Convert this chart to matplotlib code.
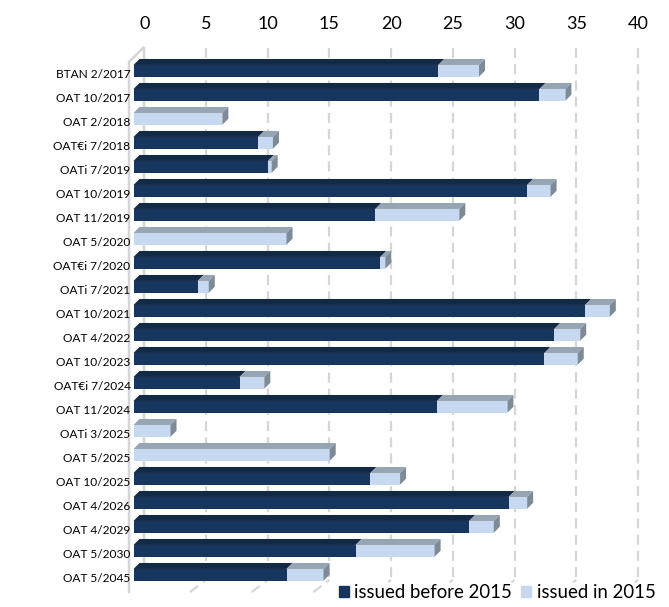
import numpy as np
import matplotlib.pyplot as plt
from matplotlib.patches import Polygon, Patch
from matplotlib.transforms import offset_copy

plt.rcParams['font.family'] = ['Lato', 'DejaVu Sans']

bonds = ['BTAN 2/2017', 'OAT 10/2017', 'OAT 2/2018', 'OAT€i 7/2018', 'OATi 7/2019',
         'OAT 10/2019', 'OAT 11/2019', 'OAT 5/2020', 'OAT€i 7/2020', 'OATi 7/2021',
         'OAT 10/2021', 'OAT 4/2022', 'OAT 10/2023', 'OAT€i 7/2024', 'OAT 11/2024',
         'OATi 3/2025', 'OAT 5/2025', 'OAT 10/2025', 'OAT 4/2026', 'OAT 4/2029',
         'OAT 5/2030', 'OAT 5/2045']
before_2015 = [24.7, 32.9, 0.0, 10.1, 10.9, 31.9, 19.6, 0.0, 20.0, 5.2, 36.6,
               34.1, 33.3, 8.6, 24.6, 0.0, 0.0, 19.2, 30.4, 27.2, 18.0, 12.4]
in_2015 = [3.3, 2.1, 7.2, 1.2, 0.3, 1.9, 6.8, 12.4, 0.4, 0.9, 2.0,
           2.1, 2.7, 2.0, 5.7, 3.0, 15.9, 2.4, 1.5, 2.0, 6.4, 3.0]
ticks = [0, 5, 10, 15, 20, 25, 30, 35, 40]

DARK, DARK_TOP = '#17365d', '#132a47'
LIGHT, LIGHT_TOP, SIDE = '#c6d9f1', '#97a4b4', '#7d8a98'
GRID = '#d6d6d6'

W, H = 669, 607
fig = plt.figure(figsize=(W / 100, H / 100), dpi=100)
# axes = front plane of the bars (pixel box of the reference)
left, right, top, bottom = 133.5, 627.1, 58.85, 586.85
ax = fig.add_axes([left / W, 1 - bottom / H, (right - left) / W, (bottom - top) / H])
ax.set_xlim(0, 40)
ax.set_ylim(len(bonds) - 0.5, -0.5)
ax.axis('off')

inv = ax.transData.inverted()


def img2data(px, py):
    return inv.transform((px, H - py))


def shift(x, y, dx, dy):
    # move a data point by (dx, dy) image pixels (dy positive = up)
    d = ax.transData.transform((x, y)) + np.array([dx, dy])
    return inv.transform(d)


# 3D frame: back wall, left wall, floor
WALL_DX, FLOOR_DX = 10.8, -5.2
wall_top = img2data(0, 48)[1]
wall_bot = img2data(0, 580)[1]
floor_front = img2data(0, 592)[1]
back = offset_copy(ax.transData, fig=fig, x=WALL_DX, y=0, units='dots')
for v in ticks[1:]:
    ax.plot([v, v], [wall_top, wall_bot], transform=back, color=GRID, lw=1.6,
            ls=(0, (4.5, 2.8)), clip_on=False, zorder=0)
    p0 = shift(v, floor_front, FLOOR_DX, 0)
    p1 = shift(v, wall_bot, WALL_DX, 0)
    ax.plot([p0[0], p1[0]], [p0[1], p1[1]], color=GRID, lw=1.6,
            ls=(0, (4.5, 2.8)), clip_on=False, zorder=0)

wall = [img2data(129, 592), img2data(129, 62), img2data(144, 47), img2data(144, 580)]
ax.plot([p[0] for p in wall], [p[1] for p in wall], color=GRID, lw=1.8,
        clip_on=False, zorder=0, solid_joinstyle='miter')

# bars
y = np.arange(len(bonds))
h = 0.49
BDX, BDY = 6, 6
before = np.array(before_2015)
added = np.array(in_2015)
ax.barh(y, before, height=h, color=DARK, zorder=2)
ax.barh(y, added, left=before, height=h, color=LIGHT, zorder=2)

for i in range(len(bonds)):
    yt = i - h / 2
    yb = i + h / 2
    segs = [(0, before[i], DARK_TOP), (before[i], before[i] + added[i], LIGHT_TOP)]
    for x0, x1, c in segs:
        if x1 - x0 <= 0:
            continue
        pts = [(x0, yt), (x1, yt), shift(x1, yt, BDX, BDY), shift(x0, yt, BDX, BDY)]
        ax.add_patch(Polygon(pts, closed=True, facecolor=c, edgecolor='none',
                             zorder=2, clip_on=False))
    xe = before[i] + added[i]
    pts = [(xe, yt), (xe, yb), shift(xe, yb, BDX, BDY), shift(xe, yt, BDX, BDY)]
    ax.add_patch(Polygon(pts, closed=True, facecolor=SIDE, edgecolor='none',
                         zorder=2, clip_on=False))

# category labels
lab_tr = offset_copy(ax.transData, fig=fig, x=-3, y=-4, units='dots')
for i, name in enumerate(bonds):
    ax.text(0, i, name, transform=lab_tr, ha='right', va='center',
            fontsize=8.6, color='black', clip_on=False)

# value labels along the top
ytick = img2data(0, 24)[1]
for v in ticks:
    ax.text(v, ytick, str(v), transform=back, ha='center', va='center',
            fontsize=13, color='black', clip_on=False)

handles = [Patch(color=DARK, label='issued before 2015'),
           Patch(color=LIGHT, label='issued in 2015')]
fig.legend(handles=handles, loc='center left', bbox_to_anchor=(337 / W, 1 - 593 / H),
           ncol=2, fontsize=13.4, frameon=True, facecolor='white', edgecolor='none',
           framealpha=1, fancybox=False, borderpad=0.1, handlelength=0.52,
           handleheight=0.52, handletextpad=0.3, columnspacing=0.5,
           borderaxespad=0)

fig.savefig('out.png', dpi=100)
